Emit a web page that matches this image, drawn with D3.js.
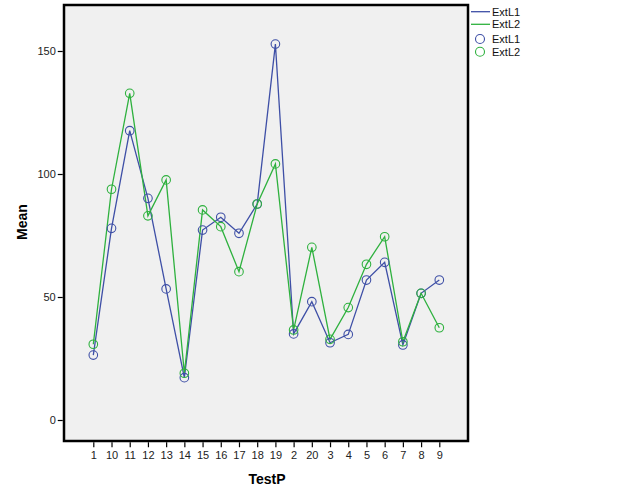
<!DOCTYPE html>
<html><head><meta charset="utf-8">
<script src="https://cdn.jsdelivr.net/npm/d3@7"></script>
<style>body{margin:0;background:#fff}svg{display:block}</style>
</head><body>
<svg id="c" width="626" height="501"></svg>
<script>
const categories = ["1","10","11","12","13","14","15","16","17","18","19","2","20","3","4","5","6","7","8","9"];
const extL1 = [26.4,77.9,117.6,90.1,53.3,17.2,77.2,82.4,75.9,87.8,152.8,35.0,48.1,31.4,34.8,56.9,64.1,30.5,51.5,56.9];
const extL2 = [30.8,93.8,132.8,83.0,97.6,19.0,85.4,78.6,60.3,87.8,104.1,36.6,70.2,32.8,45.7,63.3,74.5,31.8,51.5,37.5];
const yTicks = [0,50,100,150];
const seriesNames = ["ExtL1","ExtL2"];
const colors = ["#3E4FA6","#2EB13E"];

const svg = d3.select("#c");
const fx0 = 64, fx1 = 468, fy0 = 5, fy1 = 441;
const y = d3.scaleLinear().domain([0,150]).range([420,51]);
const x = d3.scalePoint().domain(categories).range([93.3,439.3]);

svg.append("rect").attr("x",fx0).attr("y",fy0).attr("width",fx1-fx0).attr("height",fy1-fy0)
  .attr("fill","#F0F0F0");

const series = [extL1, extL2];
const line = d3.line().x((d,i)=>x(categories[i])).y(d=>y(d));
series.forEach((s,k)=>{
  svg.append("path").datum(s).attr("d",line).attr("fill","none")
    .attr("stroke",colors[k]).attr("stroke-width",1.3);
});
series.forEach((s,k)=>{
  svg.append("g").selectAll("circle").data(s).join("circle")
    .attr("cx",(d,i)=>x(categories[i])).attr("cy",d=>y(d)).attr("r",4.3)
    .attr("fill","none").attr("stroke",colors[k]).attr("stroke-width",1.1);
});

svg.append("rect").attr("x",fx0).attr("y",fy0).attr("width",fx1-fx0).attr("height",fy1-fy0)
  .attr("fill","none").attr("stroke","#000").attr("stroke-width",2.5);

// y axis
const yAxis = d3.axisLeft(y).tickValues(yTicks).tickSize(5).tickPadding(2);
const gy = svg.append("g").attr("transform",`translate(${fx0-1.25},0)`).call(yAxis);
gy.select(".domain").remove();
gy.selectAll(".tick line").attr("stroke","#000").attr("stroke-width",1.2);
gy.selectAll("text").attr("font-family","Arial, 'Liberation Sans', sans-serif").attr("font-size","11px").attr("fill","#222");

// x axis
const xAxis = d3.axisBottom(x).tickSize(5).tickPadding(4);
const gx = svg.append("g").attr("transform",`translate(0,${fy1+1.25})`).call(xAxis);
gx.select(".domain").remove();
gx.selectAll(".tick line").attr("stroke","#000").attr("stroke-width",1.2);
gx.selectAll("text").attr("font-family","Arial, 'Liberation Sans', sans-serif").attr("font-size","11px").attr("fill","#222");

svg.append("text").attr("x",267).attr("y",484).attr("text-anchor","middle")
  .attr("font-family","Arial, 'Liberation Sans', sans-serif").attr("font-weight","bold").attr("font-size","14px")
  .text("TestP");
svg.append("text").attr("transform","translate(27,222) rotate(-90)").attr("text-anchor","middle")
  .attr("font-family","Arial, 'Liberation Sans', sans-serif").attr("font-weight","bold").attr("font-size","14px")
  .text("Mean");

// legend
const lg = svg.append("g").attr("font-family","Arial, 'Liberation Sans', sans-serif").attr("font-size","11px");
seriesNames.forEach((n,k)=>{
  const yy = 11.7 + k*12.6;
  lg.append("line").attr("x1",471).attr("x2",490).attr("y1",yy).attr("y2",yy).attr("stroke",colors[k]).attr("stroke-width",1.3);
  lg.append("text").attr("x",492).attr("y",yy+4).attr("fill","#111").text(n);
});
seriesNames.forEach((n,k)=>{
  const yy = 39 + k*12.8;
  lg.append("circle").attr("cx",480).attr("cy",yy).attr("r",4.5).attr("fill","none").attr("stroke",colors[k]).attr("stroke-width",1.1);
  lg.append("text").attr("x",492).attr("y",yy+4).attr("fill","#111").text(n);
});
</script>
</body></html>
